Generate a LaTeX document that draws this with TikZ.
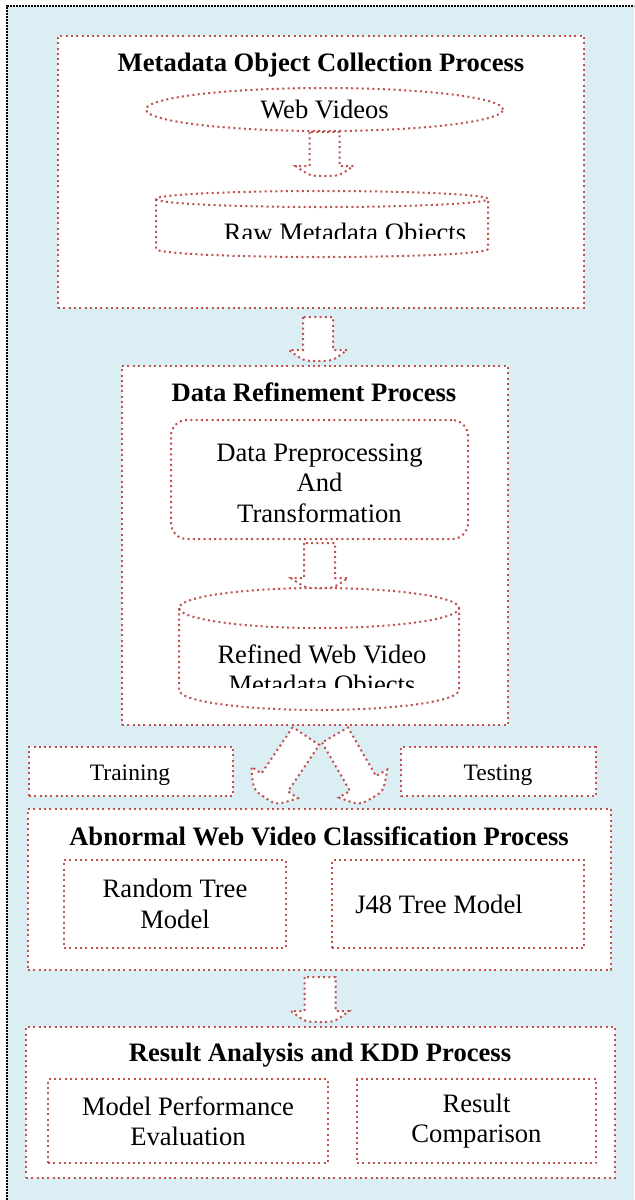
\documentclass[tikz,border=0pt]{standalone}
\usepackage{fontspec}
\setmainfont{Liberation Serif}
\usetikzlibrary{shapes.geometric,calc}
\definecolor{bgblue}{HTML}{DAEEF3}
\definecolor{dotred}{HTML}{C0504D}
\newcommand\mainfs{\fontsize{13.3}{15.2}\selectfont}
\newcommand\titlefs{\fontsize{13.3}{15.2}\selectfont\bfseries}
\newcommand\smallfs{\fontsize{11.75}{13.5}\selectfont}
% block arrow: #1 start coordinate, #2 rotation, #3 shaft half width, #4 flare half width, #5 shaft length, #6 head length
\newcommand\blockarr[6]{%
  \draw[reddot, fill=white, shift={#1}, rotate=#2]
    (-#3,0) -- (-#3,#5) -- (-#4,#5)
    .. controls ({-#4*0.5},{#5+#6}) .. (0,{#5+#6})
    .. controls ({#4*0.5},{#5+#6}) .. (#4,#5)
    -- (#3,#5) -- (#3,0) -- cycle;}
% cylinder: #1 x1, #2 x2, #3 top ellipse centre y, #4 bottom ellipse centre y, #5 y radius
\newcommand\dbcyl[5]{%
  \draw[reddot] (#1,#3) -- (#1,#4)
    .. controls (#1,{#4+0.552*#5}) and ({(#1+#2)/2-0.552*(#2-#1)/2},{#4+#5}) .. ({(#1+#2)/2},{#4+#5})
    .. controls ({(#1+#2)/2+0.552*(#2-#1)/2},{#4+#5}) and (#2,{#4+0.552*#5}) .. (#2,#4) -- (#2,#3);
  \draw[reddot] ({(#1+#2)/2},{#3-#5})
    .. controls ({(#1+#2)/2+0.552*(#2-#1)/2},{#3-#5}) and (#2,{#3-0.552*#5}) .. (#2,#3)
    .. controls (#2,{#3+0.552*#5}) and ({(#1+#2)/2+0.552*(#2-#1)/2},{#3+#5}) .. ({(#1+#2)/2},{#3+#5})
    .. controls ({(#1+#2)/2-0.552*(#2-#1)/2},{#3+#5}) and (#1,{#3+0.552*#5}) .. (#1,#3)
    .. controls (#1,{#3-0.552*#5}) and ({(#1+#2)/2-0.552*(#2-#1)/2},{#3-#5}) .. cycle;}
\begin{document}
\begin{tikzpicture}[x=0.5pt,y=-0.5pt,
  reddot/.style={draw=dotred, line width=1pt, dash pattern=on 1pt off 1.65pt},
  blackdot/.style={draw=black, line width=0.8pt, dash pattern=on 0.8pt off 0.7pt},
  box/.style={reddot, fill=white, rectangle, inner sep=0pt, align=center, font=\mainfs},
  txt/.style={inner sep=0pt, align=center, font=\mainfs},
  ttl/.style={inner sep=0pt, font=\titlefs},
  anchorbox/.style={inner sep=0pt, rectangle}]
\useasboundingbox (0,0) rectangle (634,1200);
\fill[bgblue] (7,6) rectangle (634,1200);
\draw[blackdot] (7,1200) -- (7,6) -- (634,6);

% ---- Metadata Object Collection Process
\node[box, minimum width=263pt, minimum height=136pt] (box1) at (321,172) {};
\node[ttl, anchor=base] (t1) at (321,71.7) {Metadata Object Collection Process};
\node[reddot, ellipse, fill=white, inner sep=0pt, minimum width=178.5pt, minimum height=21.5pt, font=\mainfs] (web) at (324.5,109.5) {Web Videos};
\dbcyl{156}{488}{199}{249}{8}
\node[anchorbox, minimum width=166pt, minimum height=33pt] (raw) at (322,224) {};
\begin{scope}
  \clip (156,191) rectangle (488,238);
  \node[txt, anchor=base] (rawtxt) at (345,241.6) {Raw Metadata Objects};
\end{scope}
\blockarr{(web.south)}{0}{15}{29}{34}{10}

% ---- Data Refinement Process
\node[box, minimum width=193pt, minimum height=179.5pt] (box2) at (315,545.5) {};
\node[ttl, anchor=base] (t2) at (314,401.7) {Data Refinement Process};
\node[box, rounded corners=8pt, minimum width=148.5pt, minimum height=59.5pt] (prep) at (319.5,479.5) {};
\node[txt] (preptxt) at (319.5,483) {Data Preprocessing\\And\\Transformation};
\dbcyl{179}{459}{608}{690}{20}
\node[anchorbox, minimum width=140pt, minimum height=61pt] (refined) at (319,649) {};
\begin{scope}
  \clip (179,588) rectangle (459,687);
  \node[txt] (reftxt) at (322,672) {Refined Web Video\\Metadata Objects};
\end{scope}
\blockarr{($(prep.south)+(0,3)$)}{0}{15.5}{28.5}{35}{10}
\blockarr{($(box1.south)+(-3,8)$)}{0}{15}{29}{33}{11}

% ---- Training / Testing
\node[box, minimum width=102pt, minimum height=24.5pt] (train) at (131,771.5) {};
\node[txt, font=\smallfs, anchor=base] (traintxt) at (130,780) {Training};
\node[box, minimum width=97.5pt, minimum height=24.5pt] (test) at (498.5,771.5) {};
\node[txt, font=\smallfs, anchor=base] (testtxt) at (498,780) {Testing};
\blockarr{($(box2.south)+(-9,10)$)}{-34}{16}{28}{56}{18}
\blockarr{($(box2.south)+(20,9)$)}{30}{15}{28}{56}{17}

% ---- Abnormal Web Video Classification Process
\node[box, minimum width=291.5pt, minimum height=80.5pt] (box3) at (319.5,889.5) {};
\node[ttl, anchor=base] (t3) at (319,845) {Abnormal Web Video Classification Process};
\node[box, minimum width=111pt, minimum height=44pt] (rt) at (175,904) {Random Tree\\Model};
\node[box, minimum width=126pt, minimum height=44pt] (j48) at (458,904) {};
\node[txt, anchor=base] (j48txt) at (439,913) {J48 Tree Model};
\blockarr{($(box3.south)+(0.5,6)$)}{0}{15.5}{29}{34}{11}

% ---- Result Analysis and KDD Process
\node[box, minimum width=294.5pt, minimum height=75.5pt] (box4) at (320.5,1102.5) {};
\node[ttl, anchor=base] (t4) at (320,1061.7) {Result Analysis and KDD Process};
\node[box, minimum width=140pt, minimum height=42pt] (mpe) at (188,1121) {Model Performance\\Evaluation};
\node[box, minimum width=119.5pt, minimum height=42pt] (rc) at (476.5,1121) {Result\\Comparison};
\end{tikzpicture}
\end{document}
